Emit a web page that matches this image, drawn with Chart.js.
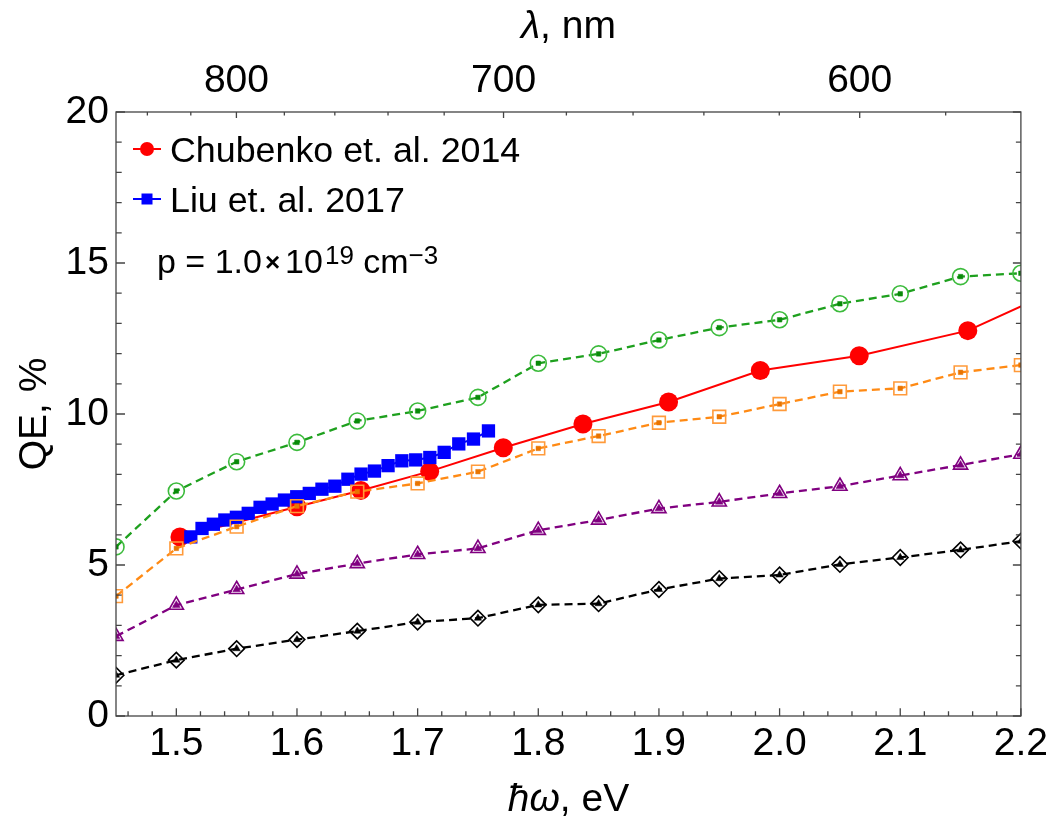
<!DOCTYPE html>
<html>
<head>
<meta charset="utf-8">
<script src="https://cdn.jsdelivr.net/npm/chart.js@4.4.1/dist/chart.umd.min.js"></script>
<style>
  html, body { margin: 0; padding: 0; background: #ffffff; }
  #wrap { width: 1053px; height: 820px; position: relative; }
</style>
</head>
<body>
<div id="wrap"><canvas id="c" width="1053" height="820"></canvas></div>
<script>
// ---------------- data ----------------
const calcEnergy = [1.45, 1.50, 1.55, 1.60, 1.65, 1.70, 1.75, 1.80, 1.85, 1.90, 1.95, 2.00, 2.05, 2.10, 2.15, 2.20];
const qeGreen  = [5.60, 7.45, 8.42, 9.06, 9.77, 10.10, 10.55, 11.68, 11.99, 12.45, 12.86, 13.12, 13.65, 13.98, 14.55, 14.66];
const qeOrange = [3.97, 5.55, 6.27, 6.95, 7.43, 7.70, 8.09, 8.86, 9.27, 9.71, 9.91, 10.33, 10.74, 10.85, 11.38, 11.62];
const qePurple = [2.64, 3.67, 4.19, 4.70, 5.05, 5.35, 5.55, 6.15, 6.49, 6.87, 7.09, 7.37, 7.61, 7.96, 8.31, 8.67];
const qeBlack  = [1.35, 1.85, 2.23, 2.53, 2.81, 3.11, 3.24, 3.68, 3.72, 4.19, 4.55, 4.67, 5.02, 5.25, 5.50, 5.79];

const chubenkoEnergy = [1.503, 1.600, 1.653, 1.710, 1.771, 1.837, 1.908, 1.984, 2.066, 2.156, 2.254];
const chubenkoQE     = [5.93, 6.93, 7.47, 8.10, 8.88, 9.67, 10.40, 11.44, 11.93, 12.76, 14.55];

const liuEnergy = [1.5120, 1.5213, 1.5307, 1.5402, 1.5498, 1.5596, 1.5694, 1.5794, 1.5896, 1.5998, 1.6102, 1.6207,
                   1.6314, 1.6422, 1.6531, 1.6642, 1.6755, 1.6869, 1.6984, 1.7101, 1.7220, 1.7341, 1.7463, 1.7587];
const liuQE     = [5.93, 6.21, 6.35, 6.49, 6.58, 6.71, 6.91, 7.02, 7.15, 7.26, 7.37, 7.51,
                   7.61, 7.84, 8.01, 8.11, 8.29, 8.45, 8.48, 8.56, 8.73, 9.01, 9.17, 9.44];

const legendLabels = ['Chubenko et. al. 2014', 'Liu et. al. 2017'];

const bottomTicks = [1.5, 1.6, 1.7, 1.8, 1.9, 2.0, 2.1, 2.2];
const leftTicks = [0, 5, 10, 15, 20];
const topTickNm = [800, 700, 600];
const topMinorNm = [840, 820, 800, 780, 760, 740, 720, 700, 680, 660, 640, 620, 600, 580];
const HC = 1239.84; // eV*nm, for the wavelength axis

// ---------------- style ----------------
const FONT = "'Liberation Sans', Arial, 'DejaVu Sans', sans-serif";
const C_GREEN = '#1ea01e', C_GREEN_M = '#3cbb3c', C_GREEN_D = '#0a8a0a';
const C_ORANGE = '#ff8a14', C_ORANGE_M = '#ff9a3a', C_ORANGE_D = '#e87400';
const C_PURPLE = '#800080';
const C_BLACK = '#000000';
const C_RED = '#ff0000';
const C_BLUE = '#0000ff';

const xy = (xs, ys) => xs.map((x, i) => ({ x: x, y: ys[i] }));

function dashedLine(label, ys, color, markerColor, style, radius) {
  return {
    label: label, data: xy(calcEnergy, ys),
    borderColor: color, borderWidth: 2.3, borderDash: [8, 5], tension: 0,
    pointStyle: style, pointRadius: radius, pointHoverRadius: radius,
    pointBorderColor: markerColor, pointBackgroundColor: 'rgba(255,255,255,0)', pointBorderWidth: 1.6
  };
}
function smallMarks(label, ys, color, style, radius) {
  return {
    label: label, data: xy(calcEnergy, ys), showLine: false,
    pointStyle: style, pointRadius: radius, pointHoverRadius: radius,
    pointBackgroundColor: color, pointBorderColor: color, pointBorderWidth: 0.5
  };
}

const datasets = [
  smallMarks('orange err', qeOrange, C_ORANGE_D, 'rect', 3.2),
  dashedLine('orange', qeOrange, C_ORANGE, C_ORANGE_M, 'rect', 9),
  {
    label: legendLabels[1], data: xy(liuEnergy, liuQE),
    borderColor: C_BLUE, borderWidth: 2, tension: 0,
    pointStyle: 'rect', pointRadius: 9.4, pointHoverRadius: 9.4,
    pointBackgroundColor: C_BLUE, pointBorderColor: C_BLUE, pointBorderWidth: 0
  },
  {
    label: legendLabels[0], data: xy(chubenkoEnergy, chubenkoQE),
    borderColor: C_RED, borderWidth: 2, tension: 0,
    pointStyle: 'circle', pointRadius: 9.5, pointHoverRadius: 9.5,
    pointBackgroundColor: C_RED, pointBorderColor: C_RED, pointBorderWidth: 0
  },
  smallMarks('green err', qeGreen, C_GREEN_D, 'rect', 3.2),
  dashedLine('green', qeGreen, C_GREEN, C_GREEN_M, 'circle', 8),
  smallMarks('purple err', qePurple, C_PURPLE, 'triangle', 4.5),
  dashedLine('purple', qePurple, C_PURPLE, C_PURPLE, 'triangle', 8.2),
  smallMarks('black err', qeBlack, C_BLACK, 'triangle', 4.2),
  dashedLine('black', qeBlack, C_BLACK, C_BLACK, 'rectRot', 7.8)
];

// ---------------- decorations plugin ----------------
const framePlugin = {
  id: 'frame',
  afterDatasetsDraw(chart) {
    const ctx = chart.ctx;
    const a = chart.chartArea;
    const sx = chart.scales.x, sy = chart.scales.y;
    ctx.save();
    ctx.strokeStyle = '#444444';
    ctx.lineWidth = 1.3;
    ctx.strokeRect(a.left, a.top, a.right - a.left, a.bottom - a.top);
    ctx.beginPath();
    for (let k = 73; k <= 110; k++) {
      const v = k / 50;
      const px = sx.getPixelForValue(v);
      const major = (k % 5 === 0);
      const len = major ? 7.7 : 4.7;
      ctx.moveTo(px, a.bottom); ctx.lineTo(px, a.bottom - len);
    }
    topMinorNm.forEach(nm => {
      const px = sx.getPixelForValue(HC / nm);
      const len = topTickNm.includes(nm) ? 6 : 3.5;
      ctx.moveTo(px, a.top); ctx.lineTo(px, a.top + len);
    });
    for (let v = 0; v <= 20; v++) {
      const py = sy.getPixelForValue(v);
      const major = (v % 5 === 0);
      ctx.moveTo(a.left, py); ctx.lineTo(a.left + (major ? 9 : 5.7), py);
      ctx.moveTo(a.right, py); ctx.lineTo(a.right - (major ? 8 : 5), py);
    }
    ctx.stroke();
    ctx.restore();
  },
  afterDraw(chart) {
    const ctx = chart.ctx;
    const a = chart.chartArea;
    const cx = (a.left + a.right) / 2;
    ctx.save();
    ctx.fillStyle = '#000';
    ctx.textBaseline = 'alphabetic';

    function mixed(parts, x, y, align) {
      let total = 0;
      parts.forEach(p => { ctx.font = p.font; total += ctx.measureText(p.t).width; });
      let start = align === 'center' ? x - total / 2 : x;
      parts.forEach(p => {
        ctx.font = p.font; ctx.textAlign = 'left';
        ctx.fillText(p.t, start, y);
        start += ctx.measureText(p.t).width;
      });
    }
    const fR = '39px ' + FONT, fI = 'italic 39px ' + FONT;
    mixed([{ t: 'ħω', font: fI }, { t: ', eV', font: fR }], cx, 811, 'center');
    mixed([{ t: 'λ', font: fI }, { t: ', nm', font: fR }], cx, 38, 'center');

    ctx.save();
    ctx.translate(35, (a.top + a.bottom) / 2);
    ctx.rotate(-Math.PI / 2);
    ctx.font = fR; ctx.textAlign = 'center'; ctx.textBaseline = 'middle';
    ctx.fillText('QE, %', 0, 0);
    ctx.restore();

    const rows = [
      { y: 149, color: C_RED, shape: 'circle', text: legendLabels[0], base: 162 },
      { y: 199, color: C_BLUE, shape: 'square', text: legendLabels[1], base: 212 }
    ];
    rows.forEach(r => {
      ctx.strokeStyle = r.color; ctx.fillStyle = r.color; ctx.lineWidth = 2;
      ctx.beginPath(); ctx.moveTo(133, r.y); ctx.lineTo(161, r.y); ctx.stroke();
      ctx.beginPath();
      if (r.shape === 'circle') ctx.arc(147, r.y, 7, 0, Math.PI * 2);
      else ctx.rect(141.5, r.y - 5.5, 11, 11);
      ctx.fill();
      ctx.fillStyle = '#000';
      ctx.font = '35.8px ' + FONT; ctx.textAlign = 'left'; ctx.textBaseline = 'alphabetic';
      ctx.fillText(r.text, 170, r.base);
    });

    let x = 157;
    const base = 273;
    const fMain = '34px ' + FONT, fSup = '26px ' + FONT;
    const seq = [
      { t: 'p = 1.0', f: fMain, dy: 0 },
      { t: '×', f: 'bold 26px ' + FONT, dy: -2, pad: 3 },
      { t: '10', f: fMain, dy: 0, pad: 2 },
      { t: '19', f: fSup, dy: -9 },
      { t: ' cm', f: fMain, dy: 0 },
      { t: '−3', f: fSup, dy: -9 }
    ];
    seq.forEach(s => {
      ctx.font = s.f;
      if (s.pad) x += s.pad;
      ctx.fillText(s.t, x, base + s.dy);
      x += ctx.measureText(s.t).width;
      if (s.pad) x += s.pad;
    });
    ctx.restore();
  }
};

// ---------------- chart ----------------
const tickFont = { family: FONT, size: 39 };
new Chart(document.getElementById('c'), {
  type: 'line',
  data: { datasets: datasets },
  options: {
    responsive: false,
    animation: false,
    layout: { padding: { left: 0, right: 32, top: 0, bottom: 0 } },
    plugins: { legend: { display: false }, tooltip: { enabled: false } },
    elements: { line: { tension: 0 } },
    scales: {
      x: {
        type: 'linear', position: 'bottom', min: 1.45, max: 2.2,
        grid: { display: false, drawTicks: false }, border: { display: false },
        afterBuildTicks: s => { s.ticks = bottomTicks.map(v => ({ value: v })); },
        ticks: { font: tickFont, color: '#000', padding: 5, maxRotation: 0, autoSkip: false,
                 callback: v => Number(v).toFixed(1) },
        afterFit: s => { s.height = 104; }
      },
      x2: {
        type: 'linear', position: 'top', min: 1.45, max: 2.2,
        grid: { display: false, drawTicks: false }, border: { display: false },
        afterBuildTicks: s => { s.ticks = topTickNm.map(nm => ({ value: HC / nm })); },
        ticks: { font: tickFont, color: '#000', padding: 7, maxRotation: 0, autoSkip: false,
                 callback: v => String(Math.round(HC / v)) },
        afterFit: s => { s.height = 112; }
      },
      y: {
        type: 'linear', position: 'left', min: 0, max: 20,
        grid: { display: false, drawTicks: false }, border: { display: false },
        afterBuildTicks: s => { s.ticks = leftTicks.map(v => ({ value: v })); },
        ticks: { font: tickFont, color: '#000', padding: 7 },
        afterFit: s => { s.width = 116; }
      }
    }
  },
  plugins: [framePlugin]
});
</script>
</body>
</html>
